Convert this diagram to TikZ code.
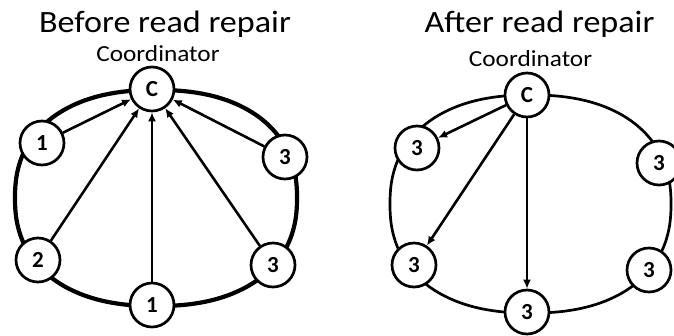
\documentclass[tikz,border=0pt]{standalone}
\usepackage{fontspec}
\setmainfont{Carlito}
\usetikzlibrary{arrows.meta}
\begin{document}
\begin{tikzpicture}[x=1pt,y=-1pt,
  peer/.style={circle, draw, line width=2.7pt, fill=white, minimum size=44pt,
    inner sep=0pt, font=\fontsize{23}{23}\selectfont\bfseries},
  ringL/.style={line width=4.2pt},
  ringR/.style={line width=2.7pt},
  msg/.style={line width=2.6pt, -{Latex[length=9pt,width=8pt]}},
  title/.style={anchor=base, inner sep=0pt, font=\fontsize{31}{31}\selectfont},
  role/.style={anchor=base, inner sep=0pt, font=\fontsize{23}{23}\selectfont}]
\useasboundingbox (0,0) rectangle (674,335);
\clip (0,0) rectangle (674,335);

% superellipse ring: centre (#2,#3), half axes #4, #5
\newcommand\ringpath[5][]{%
  \draw[#1] plot[domain=1:361, samples=181, smooth cycle]
    ({#2+#4*sign(cos(\x))*abs(cos(\x))^(0.87)},
     {#3+#5*sign(sin(\x))*abs(sin(\x))^(0.87)});}

% ---------- before read repair ----------
\node[title] (tl) at (165,32) {\scalebox{1.1}[1]{Before read repair}};
\node[role]  (rl) at (158,61.7) {\scalebox{1.1}[1]{Coordinator}};

\ringpath[ringL]{156}{198}{141}{108}

\node[peer] (c)  at (152,89)  {C};
\node[peer] (ul) at (42,143)  {1};
\node[peer] (ll) at (38,260)  {2};
\node[peer] (b)  at (152,305) {1};
\node[peer] (lr) at (273,265) {3};
\node[peer] (ur) at (285,157) {3};

\draw[msg] (ul) -- (c);
\draw[msg] (ll) -- (c);
\draw[msg] (b)  -- (c);
\draw[msg] (lr) -- (c);
\draw[msg] (ur) -- (c);

% ---------- after read repair ----------
\node[title] (tr) at (539.5,32) {\scalebox{1.1}[1]{After read repair}};
\node[role]  (rr) at (530.5,66) {\scalebox{1.1}[1]{Coordinator}};

\ringpath[ringR]{530.5}{204}{140.5}{109}

\node[peer] (c2)  at (527,95)  {C};
\node[peer] (ul2) at (417,148) {3};
\node[peer] (ll2) at (414,265) {3};
\node[peer] (b2)  at (527,312) {3};
\node[peer] (lr2) at (649,270) {3};
\node[peer] (ur2) at (659,163) {3};

\draw[msg] (c2) -- (ul2);
\draw[msg] (c2) -- (ll2);
\draw[msg] (c2) -- (b2);
\end{tikzpicture}
\end{document}
